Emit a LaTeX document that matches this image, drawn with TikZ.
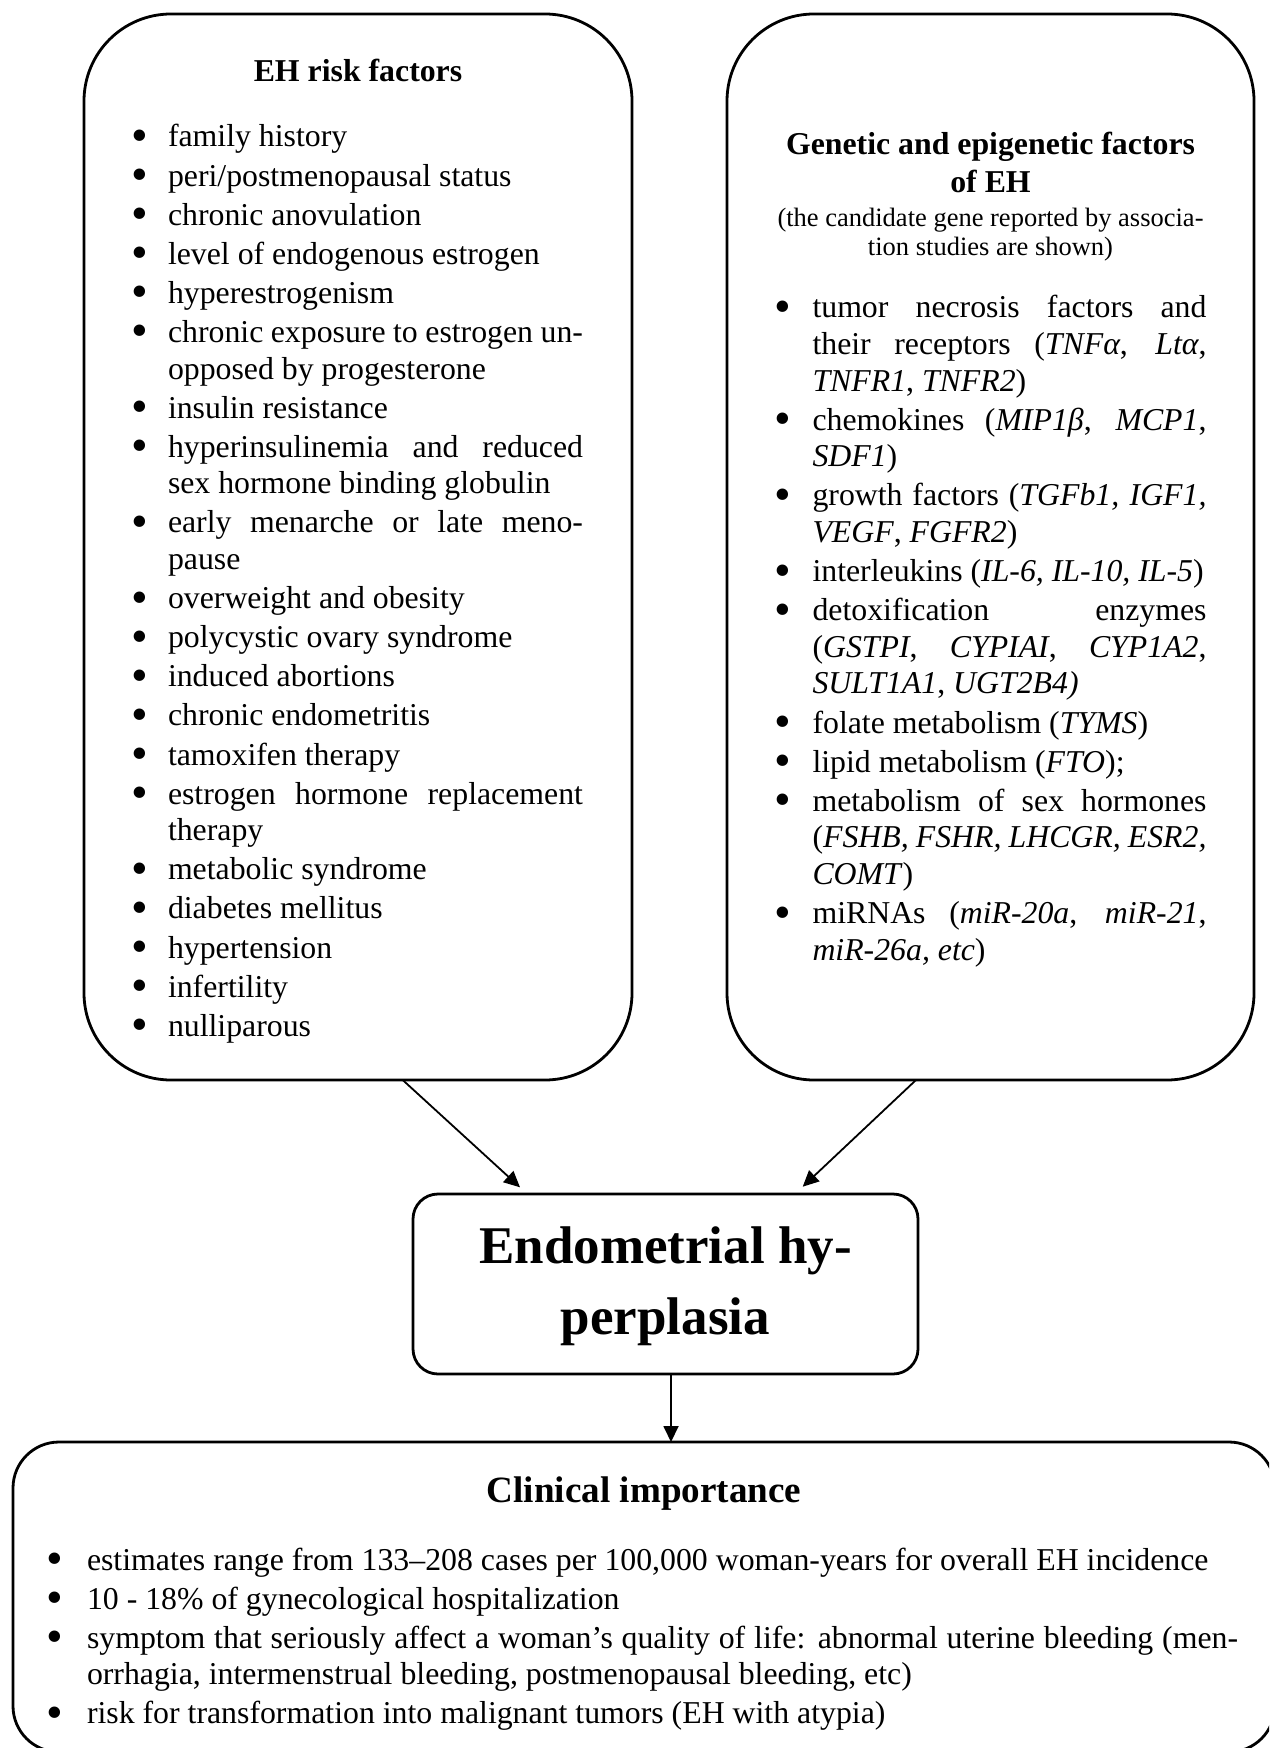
\documentclass[tikz,border=0pt]{standalone}
\usepackage{fontspec}
\usepackage{graphicx}
\setmainfont{Liberation Serif}
\usetikzlibrary{arrows.meta,calc}
\setlength\parindent{0pt}
\newlength\bgap
\newcommand\bul{\raisebox{-0.14em}{\scalebox{1.5}{\textbullet}}}
\newcommand\fixsp{\spaceskip=0.25em\xspaceskip=0.25em\relax}
\newcommand\just{\spaceskip=0pt\xspaceskip=0pt\leftskip=0pt\rightskip=0pt\parfillskip=0pt plus 1fil\relax}
\newcommand\fitm{\leavevmode\llap{\bul\hspace{\bgap}}\ignorespaces}
\newcommand\itm{\par\noindent\llap{\bul\hspace{\bgap}}\ignorespaces}
\tikzset{
  boxline/.style={draw, line width=1.4pt, rectangle, inner sep=0pt, outer sep=0pt},
  bigbox/.style={boxline, rounded corners=43.5pt},
  arr/.style={-{Triangle[length=8pt,width=7.5pt]}, line width=0.9pt},
  txt/.style={inner sep=0pt, outer sep=0pt},
  mainfont/.style={font=\fontsize{15.9pt}{18.3pt}\selectfont},
  headfont/.style={font=\fontsize{15.9pt}{18.8pt}\selectfont\bfseries},
}
\begin{document}
\begin{tikzpicture}[x=0.5pt,y=-0.5pt]
\useasboundingbox (0,0) rectangle (1269,1748);
\clip (0,0) rectangle (1269,1748);
\fill[white] (0,0) rectangle (1269,1748);

% boxes
\node[bigbox, minimum width=274pt, minimum height=533pt] (lbox) at (358,547) {};
\node[bigbox, minimum width=263.5pt, minimum height=533pt] (rbox) at (990.5,547) {};
\node[boxline, rounded corners=12.5pt, minimum width=252.5pt, minimum height=90pt] (ehbox) at (665.5,1284) {};
\node[boxline, rounded corners=23pt, minimum width=631pt, minimum height=155pt] (cbox) at (644,1597) {};

% left box text
\node[txt, headfont, anchor=base] (lhead) at (358,82) {\fixsp EH risk factors};
\node[txt, mainfont, anchor=base west, text width=207.5pt, align=justify] (ltxt) at (168,147) {%
\just\setlength\parskip{1.25pt}\setlength\bgap{10.1pt}%
\fitm family history
\itm peri/postmenopausal status
\itm chronic anovulation
\itm level of endogenous estrogen
\itm hyperestrogenism
\itm chronic exposure to estrogen un-\linebreak opposed by progesterone
\itm insulin resistance
\itm hyperinsulinemia and reduced\linebreak sex hormone binding globulin
\itm early menarche or late meno-\linebreak pause
\itm overweight and obesity
\itm polycystic ovary syndrome
\itm induced abortions
\itm chronic endometritis
\itm tamoxifen therapy
\itm estrogen hormone replacement\linebreak therapy
\itm metabolic syndrome
\itm diabetes mellitus
\itm hypertension
\itm infertility
\itm nulliparous\par};

% right box text
\node[txt, headfont, anchor=base, text width=240pt, align=center] (rhead) at (990.5,155) {\fixsp Genetic and epigenetic factors\\of EH};
\node[txt, anchor=base, text width=240pt, align=center, font=\fontsize{13.25pt}{14.5pt}\selectfont] (rsub) at (990.5,226.7) {\fixsp (the candidate gene reported by associa-\\tion studies are shown)};
\node[txt, mainfont, anchor=base west, text width=197pt, align=justify] (rtxt) at (812.5,318) {%
\just\setlength\parskip{1.25pt}\setlength\bgap{10.7pt}%
\fitm tumor necrosis factors and\linebreak their receptors (\textit{TNFα}, \textit{Ltα},\linebreak \textit{TNFR1}, \textit{TNFR2})
\itm chemokines (\textit{MIP1β}, \textit{MCP1},\linebreak \textit{SDF1})
\itm growth factors (\textit{TGFb1, IGF1,}\linebreak \textit{VEGF}, \textit{FGFR2})
\itm interleukins (\textit{IL-6, IL-10, IL-5})
\itm detoxification enzymes\linebreak (\textit{GSTPI}, \textit{CYPIAI}, \textit{CYP1A2},\linebreak \textit{SULT1A1}, \textit{UGT2B4)}
\itm folate metabolism (\textit{TYMS})
\itm lipid metabolism (\textit{FTO});
\itm metabolism of sex hormones\linebreak (\textit{FSHB, FSHR, LHCGR, ESR2,}\linebreak \textit{COMT})
\itm miRNAs (\textit{miR-20a}, \textit{miR-21},\linebreak \textit{miR-26a, etc})\par};

% center box text
\node[txt, anchor=base, text width=245pt, align=center, font=\fontsize{26.5pt}{35.5pt}\selectfont\bfseries] (ehtxt) at (665.5,1263) {\fixsp Endometrial hy-\\perplasia};

% bottom box text
\node[txt, anchor=base, font=\fontsize{18.55pt}{21pt}\selectfont\bfseries] (chead) at (644,1502) {\fixsp Clinical importance};
\node[txt, mainfont, anchor=base west, text width=575.5pt, align=justify] (ctxt) at (87,1570) {%
\just\setlength\parskip{1.25pt}\setlength\bgap{11.8pt}%
\fitm estimates range from 133–208 cases per 100,000 woman-years for overall EH incidence
\itm 10 - 18\% of gynecological hospitalization
\itm symptom that seriously affect a woman’s quality of life: abnormal uterine bleeding (men-\linebreak orrhagia, intermenstrual bleeding, postmenopausal bleeding, etc)
\itm risk for transformation into malignant tumors (EH with atypia)\par};

% arrows
\draw[arr] ($(lbox.south)+(44.7,0)$) -- ($(ehbox.north)+(-145.5,-6.7)$);
\draw[arr] ($(rbox.south)+(-74.5,0)$) -- ($(ehbox.north)+(137.2,-7.3)$);
\coordinate (d1) at ([xshift=2.75pt]ehbox.south);
\draw[arr] (d1) -- (d1 |- cbox.north);
\end{tikzpicture}
\end{document}
